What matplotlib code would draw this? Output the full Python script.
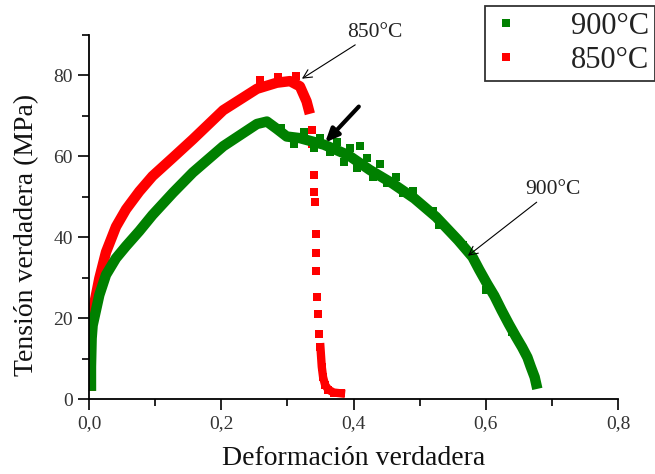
import matplotlib
matplotlib.use("Agg")
import matplotlib.pyplot as plt
from matplotlib.ticker import MultipleLocator, FuncFormatter

plt.rcParams['font.family'] = ['Liberation Serif', 'DejaVu Serif']

# 850 C curve, dense part up to the peak and the start of the drop
red_x = [0.002, 0.002, 0.003, 0.0055, 0.0156, 0.0257, 0.0408, 0.056, 0.076, 0.096,
         0.127, 0.157, 0.203, 0.254, 0.284, 0.304, 0.319, 0.329, 0.334]
red_y = [2, 10, 18, 21.5, 29.8, 36.3, 42.6, 46.9, 51.3, 55.1,
         59.7, 64.2, 71.4, 76.7, 78.2, 78.6, 77.3, 73.6, 70.5]
# loose squares: on top of the peak and along the fracture drop
red_pts_x = [0.259, 0.286, 0.313, 0.337, 0.337, 0.340, 0.341, 0.3425, 0.343, 0.344,
             0.344, 0.345, 0.346, 0.348]
red_pts_y = [78.9, 79.6, 79.8, 66.5, 63, 55.4, 51.2, 48.8, 40.7, 36.2,
             31.7, 25.2, 21, 16]
# dense tail at the bottom
red_tail_x = [0.350, 0.352, 0.354, 0.357, 0.362, 0.370, 0.381]
red_tail_y = [12.8, 8, 5.4, 3.5, 2.3, 1.6, 1.4]

# 900 C curve
green_x = [0.003, 0.003, 0.004, 0.0055, 0.0156, 0.0257, 0.0408, 0.056, 0.076, 0.096,
           0.127, 0.157, 0.203, 0.254, 0.269, 0.284, 0.299, 0.319, 0.355, 0.392,
           0.425, 0.459, 0.492, 0.525, 0.558, 0.580, 0.590, 0.602, 0.613, 0.624,
           0.635, 0.646, 0.655, 0.663, 0.668, 0.674, 0.678]
green_y = [2, 8, 15, 18.2, 25.7, 30.7, 34.8, 37.8, 41.5, 45.5,
           51, 56, 62.5, 68, 68.6, 66.8, 64.9, 64.5, 62.9, 60.3,
           56.6, 53.3, 49.6, 45, 39.3, 35.1, 32, 28.5, 25.5, 21.9,
           18.5, 15.3, 12.8, 10.3, 8, 5.4, 2.5]
# scattered squares around the softening part
green_sc_x = [0.290, 0.310, 0.325, 0.340, 0.350, 0.365, 0.375, 0.385, 0.395, 0.405,
              0.410, 0.420, 0.430, 0.440, 0.450, 0.465, 0.475, 0.490, 0.520, 0.530,
              0.565, 0.600, 0.640]
green_sc_y = [67, 63, 66, 62, 64.5, 61, 63.5, 58.5, 62, 57,
              62.5, 59.5, 55, 58, 53.5, 55, 51, 51.5, 46.5, 43,
              38, 27, 16.5]

green = '#008000'
red = '#ff0000'

fig = plt.figure(figsize=(6.55, 4.74), dpi=100)
ax = fig.add_axes([89 / 655, 75 / 474, 529 / 655, 364 / 474])

ax.plot(green_x, green_y, color=green, lw=7.5, solid_capstyle='butt', zorder=2)
ax.plot(green_sc_x, green_sc_y, 's', color=green, ms=5.8, mew=0, zorder=2)
ax.plot(red_x, red_y, color=red, lw=7.5, solid_capstyle='butt', zorder=1)
ax.plot(red_pts_x, red_pts_y, 's', color=red, ms=5.8, mew=0, zorder=1)
ax.plot(red_tail_x, red_tail_y, color=red, lw=6, zorder=1)
ax.plot(red_tail_x, red_tail_y, 's', color=red, ms=5.8, mew=0, zorder=1)

ax.set_xlim(0, 0.8)
ax.set_ylim(0, 90)
ax.spines['top'].set_visible(False)
ax.spines['right'].set_visible(False)
for s in ('left', 'bottom'):
    ax.spines[s].set_linewidth(1.3)
ax.xaxis.set_major_locator(MultipleLocator(0.2))
ax.xaxis.set_minor_locator(MultipleLocator(0.1))
ax.yaxis.set_major_locator(MultipleLocator(20))
ax.yaxis.set_minor_locator(MultipleLocator(10))
ax.xaxis.set_major_formatter(FuncFormatter(lambda v, p: f"{v:.1f}".replace('.', ',')))
ax.tick_params(which='major', direction='out', length=8, width=1.2, labelsize=14,
               labelcolor='#333333')
ax.tick_params(which='minor', direction='out', length=5, width=1.2)

ax.set_xlabel('Deformación verdadera', fontsize=20, labelpad=10, color='#111111')
ax.set_ylabel('Tensión verdadera (MPa)', fontsize=20, color='#111111')
ax.yaxis.set_label_coords(-0.094, 0.45)

# annotations
ax.annotate('850°C', xy=(0.322, 79.2), xytext=(0.390, 90.6), fontsize=15.5,
            va='center', ha='left', annotation_clip=False, color='#222222',
            arrowprops=dict(arrowstyle='->', color='black', lw=0.8, shrinkA=0, shrinkB=0))
ax.annotate('900°C', xy=(0.573, 35.4), xytext=(0.659, 51.7), fontsize=15.5,
            va='center', ha='left', color='#222222',
            arrowprops=dict(arrowstyle='->', color='black', lw=0.8, shrinkA=0, shrinkB=0))
ax.annotate('', xy=(0.357, 63.4), xytext=(0.408, 72.3),
            arrowprops=dict(arrowstyle='-|>,head_length=0.8,head_width=0.35',
                            color='black', lw=3, shrinkA=0, shrinkB=0))

h1, = ax.plot([], [], 's', color=green, ms=6, mew=0)
h2, = ax.plot([], [], 's', color=red, ms=6, mew=0)
leg = fig.legend([h1, h2], ['900°C', '850°C'], loc='upper left',
                 bbox_to_anchor=(485 / 655, 1 - 6 / 474), fontsize=22,
                 frameon=True, fancybox=False, handlelength=1.0, handletextpad=1.6,
                 borderpad=0.2, labelspacing=0.15, borderaxespad=0)
leg.get_frame().set_edgecolor('black')
leg.get_frame().set_linewidth(1.3)
for t in leg.get_texts():
    t.set_color('#222222')

fig.savefig('out.png', dpi=100)
